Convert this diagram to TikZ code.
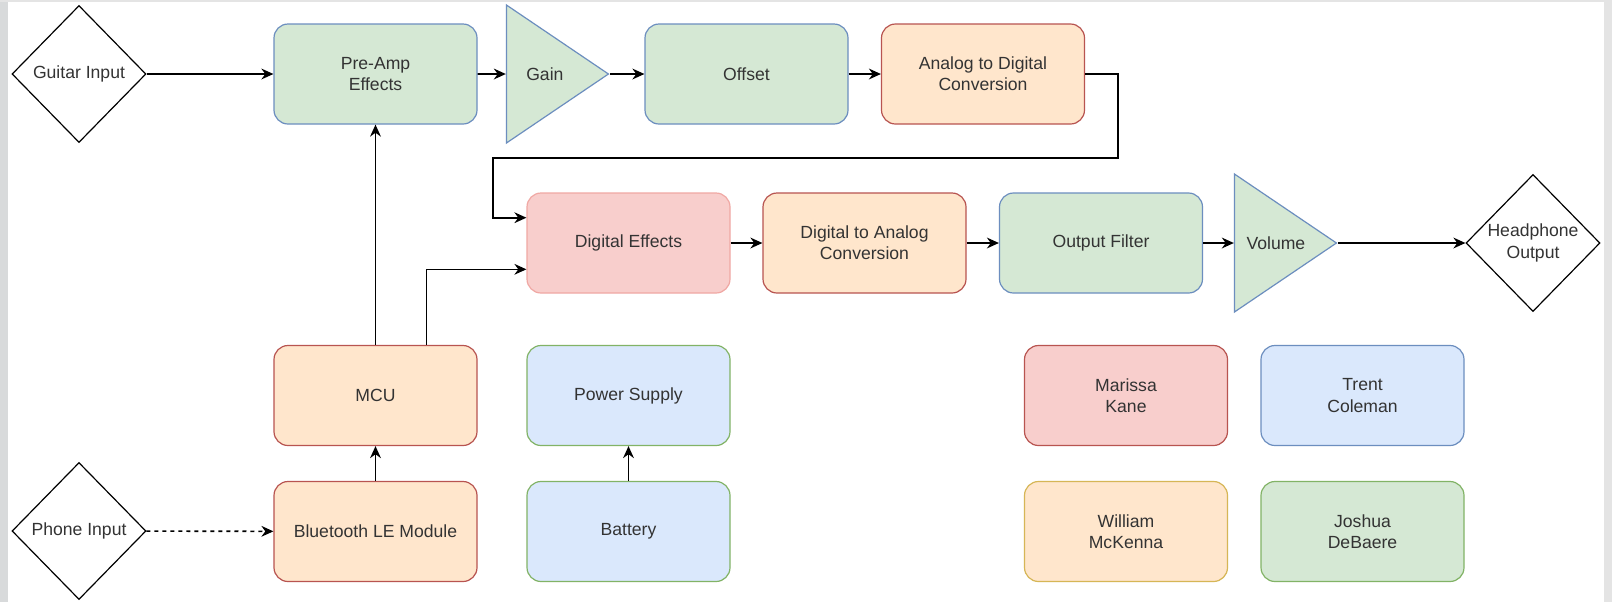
\documentclass[tikz,border=0pt]{standalone}
\usepackage{fontspec}
\setmainfont{Liberation Sans}
\usetikzlibrary{shapes.geometric,arrows.meta,calc}

\definecolor{greenfill}{HTML}{D5E8D4}
\definecolor{orangefill}{HTML}{FFE6CC}
\definecolor{pinkfill}{HTML}{F8CECC}
\definecolor{bluefill}{HTML}{DAE8FC}
\definecolor{bluestroke}{HTML}{6C8EBF}
\definecolor{redstroke}{HTML}{B85450}
\definecolor{pinkstroke}{HTML}{F0A8A4}
\definecolor{greenstroke}{HTML}{82B366}
\definecolor{yellowstroke}{HTML}{D6B656}
\definecolor{edgeleft}{HTML}{D8DADB}
\definecolor{edgeright}{HTML}{E4E4E4}

\begin{document}
\begin{tikzpicture}[
    x=0.5pt, y=-0.5pt,
    >={Stealth[length=6pt,width=5.4pt]},
    block/.style={rectangle, rounded corners=7pt, draw, line width=0.6pt, minimum width=101.5pt, minimum height=50pt, align=center, font=\fontsize{8.8}{10.6}\selectfont, text=black!80},
    amp/.style={isosceles triangle, isosceles triangle stretches, draw=bluestroke, fill=greenfill, line width=0.6pt, minimum width=69pt, minimum height=51pt, inner sep=0pt, anchor=apex, font=\fontsize{8.8}{10.6}\selectfont, text=black!80},
    port/.style={diamond, draw, line width=0.6pt, minimum width=67pt, minimum height=68.5pt, inner sep=0pt, align=center, font=\fontsize{8.8}{10.6}\selectfont, text=black!80},
    link/.style={->, line width=0.8pt}
]
    \useasboundingbox (0,0) rectangle (1612,602);
    \fill[white] (0,0) rectangle (1612,602);
    \fill[edgeleft] (0,0) rectangle (8,602);
    \fill[edgeright] (1604,0) rectangle (1612,602);
    \fill[edgeright] (0,0) rectangle (1612,2);

    % Eingaenge und Ausgang
    \node[port] (guitar) at (79,74) {Guitar Input};
    \node[port] (phone) at (79,531) {Phone Input};
    \node[port] (head) at (1533,243) {Headphone\\Output};

    % Analoger Pfad
    \node[block, fill=greenfill, draw=bluestroke] (preamp) at (375.5,74) {Pre-Amp\\Effects};
    \node[amp] (gain) at (610,74) {Gain};
    \node[block, fill=greenfill, draw=bluestroke] (offset) at (746.5,74) {Offset};
    \node[block, fill=orangefill, draw=redstroke] (adc) at (983,74) {Analog to Digital\\Conversion};

    % Digitaler Pfad
    \node[block, fill=pinkfill, draw=pinkstroke] (deff) at (628.5,243) {Digital Effects};
    \node[block, fill=orangefill, draw=redstroke] (dac) at (864.5,243) {Digital to Analog\\Conversion};
    \node[block, fill=greenfill, draw=bluestroke] (filter) at (1101,243) {Output Filter};
    \node[amp] (volume) at (1338,243) {Volume};

    % Steuerung und Versorgung
    \node[block, fill=orangefill, draw=redstroke] (mcu) at (375.5,395.5) {MCU};
    \node[block, fill=orangefill, draw=redstroke] (ble) at (375.5,531.5) {Bluetooth LE Module};
    \node[block, fill=bluefill, draw=greenstroke] (power) at (628.5,395.5) {Power Supply};
    \node[block, fill=bluefill, draw=greenstroke] (battery) at (628.5,531.5) {Battery};

    % Legende
    \node[block, fill=pinkfill, draw=redstroke] (marissa) at (1126,395.5) {Marissa\\Kane};
    \node[block, fill=bluefill, draw=bluestroke] (trent) at (1362.5,395.5) {Trent\\Coleman};
    \node[block, fill=orangefill, draw=yellowstroke] (william) at (1126,531.5) {William\\McKenna};
    \node[block, fill=greenfill, draw=greenstroke] (joshua) at (1362.5,531.5) {Joshua\\DeBaere};

    % Hilfspunkte
    \coordinate (loopR) at (1118,158);
    \coordinate (loopL) at (493,158);
    \coordinate (deIn1) at ($(deff.north west)!0.25!(deff.south west)$);
    \coordinate (deIn2) at ($(deff.north west)!0.76!(deff.south west)$);
    \coordinate (mcuOut) at ($(mcu.north west)!0.75!(mcu.north east)$);

    % Verbindungen
    \draw[link] (guitar) -- (preamp);
    \draw[link] (preamp) -- (gain);
    \draw[link] (gain.apex) -- (offset);
    \draw[link] (offset) -- (adc);
    \draw[link] (adc.east) -| (loopR) -- (loopL) |- (deIn1);
    \draw[link] (deff) -- (dac);
    \draw[link] (dac) -- (filter);
    \draw[link] (filter) -- (volume);
    \draw[link] (volume.apex) -- (head);
    \draw[link] (mcu) -- (preamp);
    \draw[link] (mcuOut) |- (deIn2);
    \draw[link] (ble) -- (mcu);
    \draw[link] (battery) -- (power);
    \draw[link, dashed, dash pattern=on 2pt off 2pt] (phone) -- (ble);
\end{tikzpicture}
\end{document}
